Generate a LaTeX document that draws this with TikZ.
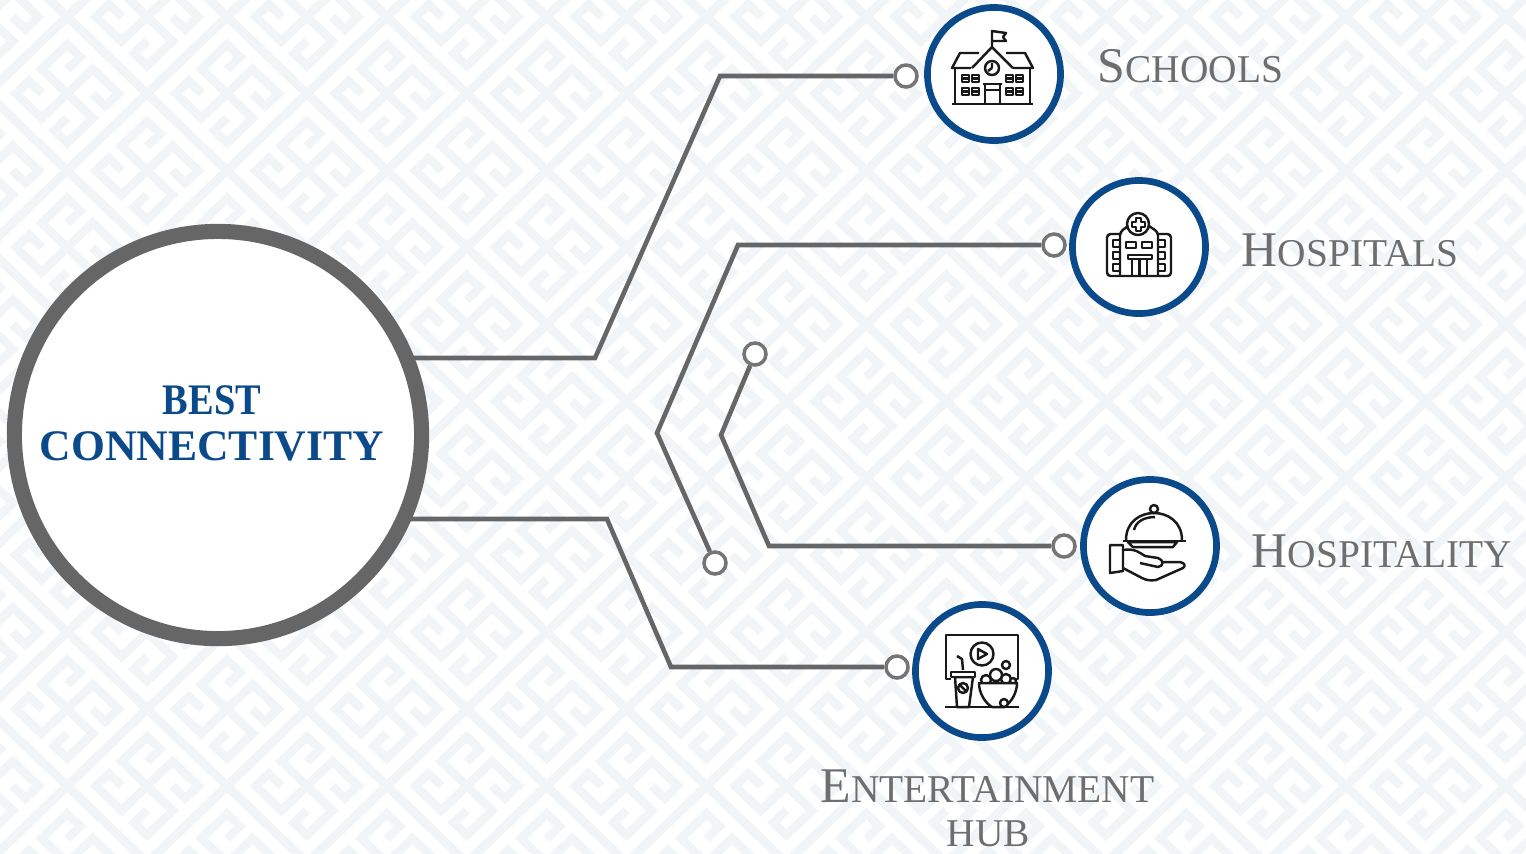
\documentclass[tikz,border=0pt]{standalone}
\usepackage{graphicx}
\usepackage{fontspec}
\setmainfont{Liberation Serif}
\definecolor{navy}{HTML}{0B4A8A}
\definecolor{slate}{HTML}{666666}
\definecolor{keyband}{HTML}{F1F5F8}
\newcommand{\bigsmall}[2]{{\fontsize{14.2}{16}\selectfont #1}{\fontsize{11.2}{14}\selectfont #2}}
\begin{document}
\begin{tikzpicture}[x=0.01cm,y=-0.01cm]
\tikzstyle{wire} = [draw=slate, line width=1.3pt, line join=miter]
\tikzstyle{hubring} = [draw=slate, shape=circle, line width=4.3pt, fill=white, minimum size=4.07cm, inner sep=0pt]
\tikzstyle{iconring} = [draw=navy, shape=circle, line width=1.9pt, fill=white, minimum size=1.33cm, inner sep=0pt]
\tikzstyle{endring} = [draw=slate!90, shape=circle, line width=1pt, fill=white, minimum size=0.22cm, inner sep=0pt]
\tikzstyle{place} = [text=slate!95, anchor=base west, inner sep=0pt]
\tikzstyle{icon} = [draw=black!90, line width=0.7pt, line join=round]
\useasboundingbox (0,0) rectangle (1526,853);

% Background key pattern
\begin{scope}
\clip (0,0) rectangle (1526,853);
\begin{scope}[xscale=1.018,yscale=0.98]
\foreach \i in {-6,...,15} {
\foreach \j in {-6,...,15} {
\begin{scope}[shift={(66+78.5*\i+78.5*\j,17+78.5*\i-78.5*\j)},rotate=45]
\draw[keyband, line width=2.5pt] (0,0) rectangle (111,111);
\foreach \r in {0,90,180,270} {
\draw[keyband, line width=2.5pt, rotate around={\r:(55.5,55.5)}]
  (55.5,55.5) -- (91,55.5) -- (91,91) -- (73,91) -- (73,73);
}
\end{scope}
}
}
\end{scope}
\end{scope}

% Hub and end rings
\node[hubring] (hub) at (218,435) {};
\node[endring] (ringschools) at (906,76) {};
\node[endring] (ringhospitals) at (1054,245) {};
\node[endring] (ringhospitality) at (1064,546) {};
\node[endring] (ringfun) at (897,667) {};
\node[endring] (stubup) at (755,354) {};
\node[endring] (stubdown) at (715,563) {};

\coordinate (bendsa) at (595,358);
\coordinate (bendsb) at (720,76);
\coordinate (bendha) at (738,245);
\coordinate (bendhb) at (657,433);
\coordinate (bendta) at (769,546);
\coordinate (bendtb) at (721,435);
\coordinate (bendfa) at (607,519);
\coordinate (bendfb) at (671,667);

\draw[wire, shorten >=1.95cm] (ringschools) -- (bendsb) -- (bendsa) -- (hub |- bendsa);
\draw[wire] (ringhospitals) -- (bendha) -- (bendhb) -- (stubdown);
\draw[wire] (ringhospitality) -- (bendta) -- (bendtb) -- (stubup);
\draw[wire, shorten >=1.93cm] (ringfun) -- (bendfb) -- (bendfa) -- (hub |- bendfa);

\node[iconring] (schools) at (994,74) {};
\node[iconring] (hospitals) at (1139,247) {};
\node[iconring] (hospitality) at (1150,546) {};
\node[iconring] (fun) at (982,671) {};

% Texts
\node[text=navy, align=center, inner sep=0pt, font=\bfseries\fontsize{12.4}{13}\selectfont] (hubtext) at (212,423) {\scalebox{0.88}[1]{BEST}\\[0.1pt]CONNECTIVITY};
\node[place] (schoolstext) at (1097,82) {\bigsmall{S}{CHOOLS}};
\node[place] (hospitalstext) at (1241,266) {\bigsmall{H}{OSPITALS}};
\node[place] (hospitalitytext) at (1251,567) {\bigsmall{H}{OSPITALITY}};
\node[place] (funtext) at (820,802) {\bigsmall{E}{NTERTAINMENT}};
\node[place] (hubword) at (946,846) {\bigsmall{}{HUB}};

% School icon
\draw[icon] (952,104) -- (1033,104);
\draw[icon] (955,68) -- (955,104) (1030,68) -- (1030,104);
\draw[icon] (971,68) -- (952,68) -- (960,53) -- (979,53);
\draw[icon] (1013,68) -- (1033,68) -- (1025,53) -- (1006,53);
\draw[icon] (972,68) -- (992,47) -- (1013,68);
\draw[icon] (992,47) -- (992,31) -- (1006,33) -- (1003,37) -- (1006,41) -- (992,41);
\draw[icon] (992,68) circle[radius=7];
\draw[icon] (992,68) -- (992,63) (992,68) -- (988,71);
\foreach \x in {962,972,1006,1016} {
\foreach \y in {75,88} {
\draw[icon] (\x,\y) rectangle +(7,7) (\x,\y+3.5) -- +(7,0);
}
}
\draw[icon] (983,84) -- (1002,84) (985,84) -- (985,104) (1000,84) -- (1000,104) (985,90) -- (1000,90);

% Hospital icon
\draw[icon, rounded corners=1pt] (1120,234) -- (1107,234) -- (1107,276) -- (1171,276) -- (1171,234) -- (1158,234);
\draw[icon, rounded corners=1pt] (1120,276) -- (1120,232) -- (1128,226);
\draw[icon, rounded corners=1pt] (1149,226) -- (1158,232) -- (1158,276);
\draw[icon] (1138,224) circle[radius=11];
\draw[icon] (1136,218) -- (1141,218) -- (1141,222) -- (1145,222) -- (1145,227) -- (1141,227) -- (1141,231) -- (1136,231) -- (1136,227) -- (1132,227) -- (1132,222) -- (1136,222) -- cycle;
\foreach \y in {240,252,264} {
\draw[icon] (1120,\y) -- (1113,\y) -- (1113,\y+7) -- (1120,\y+7);
\draw[icon] (1158,\y) -- (1165,\y) -- (1165,\y+7) -- (1158,\y+7);
}
\draw[icon] (1126,242) rectangle (1136,248) (1142,242) rectangle (1152,248);
\draw[icon] (1128,255) rectangle (1152,259);
\draw[icon] (1132,259) -- (1132,276) (1147,259) -- (1147,276) (1139.5,259) -- (1139.5,276);

% Hospitality icon
\draw[icon] (1154,509) circle[radius=4];
\draw[icon] (1126,540) .. controls (1126,522) and (1140,513) .. (1154,513) .. controls (1168,513) and (1182,522) .. (1182,540);
\draw[icon] (1134,530) .. controls (1136,521) and (1145,517) .. (1155,517);
\draw[icon] (1123,541) -- (1186,541);
\draw[icon] (1128,542) -- (1177,542) -- (1173,547) -- (1133,547) -- cycle;
\draw[icon] (1110,545) -- (1123,545) -- (1123,571) -- (1110,573) -- cycle;
\draw[icon] (1123,550) .. controls (1135,548) and (1140,553) .. (1145,556) -- (1158,558) .. controls (1164,560) and (1164,566) .. (1158,567) -- (1140,563);
\draw[icon] (1161,562) -- (1180,562) .. controls (1185,563) and (1186,566) .. (1183,568) -- (1156,580) .. controls (1150,581) and (1146,580) .. (1142,578) -- (1123,568);

% Entertainment icon
\draw[icon] (951,679) -- (946,679) -- (946,635) -- (1018,635) -- (1018,679) -- (1012,679);
\draw[icon] (982,654) circle[radius=11.5];
\draw[icon] (978,649) -- (987,654) -- (978,659) -- cycle;
\draw[icon] (963,670) -- (962,659) -- (957,656);
\draw[icon, fill=white] (955,677) -- (957,707) -- (969,707) -- (973,677) -- cycle;
\draw[icon, fill=white] (951,672) rectangle (975,677);
\draw[icon] (963,688) circle[radius=5] (960,685) -- (966,691);
\draw[icon] (1006,665) circle[radius=4];
\foreach \x/\y/\s in {986/680/5,996/675/6,1006/679/5,1013/681/3} {
\draw[icon, fill=white] (\x,\y) circle[radius=\s];
}
\draw[icon, fill=white] (979,683) -- (1017,683) .. controls (1017,692) and (1012,702) .. (1004,707) -- (992,707) .. controls (984,702) and (979,692) .. (979,683) -- cycle;
\draw[icon, fill=white] (1004,703) circle[radius=4];
\draw[icon] (945,707) -- (1019,707);
\end{tikzpicture}
\end{document}
